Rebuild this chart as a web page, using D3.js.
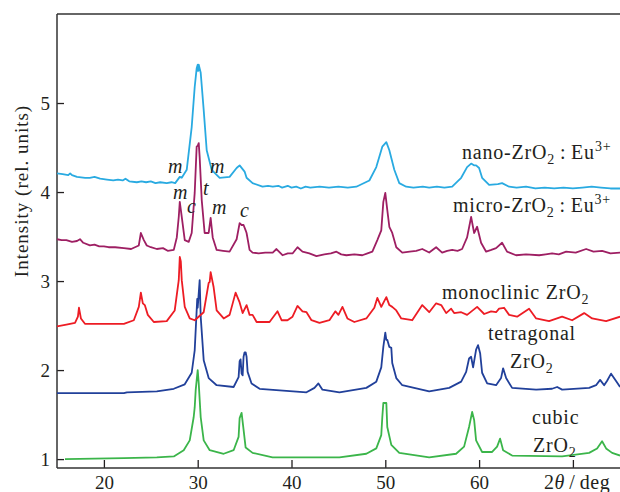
<!DOCTYPE html>
<html>
<head>
<meta charset="utf-8">
<script src="https://cdn.jsdelivr.net/npm/d3@7"></script>
<style>
  body { margin: 0; background: #fff; }
  text { font-family: "Liberation Serif", "Times New Roman", serif; fill: #231f20; }
</style>
</head>
<body>
<div id="chart"></div>
<script>
// XRD patterns, [2theta, intensity]
const nanoPts = [[15.00,4.21],[15.6,4.20],[16.2,4.19],[16.4,4.21],[16.6,4.19],[17.13,4.17],[18.0,4.16],[18.5,4.16],[19.0,4.17],[19.6,4.15],[20.32,4.14],[21.0,4.13],[21.5,4.14],[22.0,4.13],[22.3,4.15],[22.7,4.12],[23.51,4.11],[24.0,4.12],[24.5,4.11],[25.0,4.12],[25.5,4.10],[26.0,4.11],[26.70,4.10],[27.2,4.11],[27.6,4.10],[28.09,4.17],[28.3,4.16],[28.83,4.25],[29.36,4.73],[29.68,5.18],[29.89,5.39],[30.0,5.43],[30.05,5.36],[30.11,5.43],[30.32,5.34],[30.64,4.92],[30.96,4.47],[31.49,4.25],[32.34,4.16],[33.40,4.17],[34.15,4.27],[34.47,4.30],[35.00,4.23],[35.21,4.16],[35.85,4.10],[36.91,4.06],[37.5,4.07],[38.0,4.06],[38.6,4.07],[39.0,4.05],[39.6,4.07],[40.0,4.05],[40.5,4.06],[41.0,4.04],[41.5,4.06],[42.0,4.05],[43.0,4.06],[44.0,4.05],[45.0,4.06],[46.0,4.05],[46.91,4.06],[48.30,4.13],[49.04,4.28],[49.68,4.51],[50.11,4.56],[50.43,4.47],[50.96,4.25],[51.49,4.10],[52.23,4.06],[53.0,4.05],[54.0,4.06],[54.68,4.05],[55.5,4.06],[56.3,4.05],[57.13,4.06],[58.09,4.16],[58.72,4.28],[59.15,4.32],[59.45,4.30],[59.68,4.30],[60.0,4.27],[60.32,4.16],[61.07,4.08],[62.0,4.09],[62.45,4.10],[63.20,4.06],[64.0,4.05],[65.0,4.06],[66.0,4.04],[67.0,4.05],[68.0,4.04],[69.0,4.05],[70.0,4.04],[71.0,4.05],[72.0,4.06],[73.0,4.05],[74.0,4.04],[75.03,4.04]];

const microPts = [[15.00,3.47],[15.5,3.46],[16.0,3.46],[16.6,3.44],[17.13,3.45],[17.45,3.47],[17.8,3.43],[18.51,3.40],[19.0,3.41],[19.5,3.39],[20.0,3.39],[20.5,3.38],[21.2,3.38],[22.13,3.37],[22.9,3.36],[23.72,3.40],[23.94,3.54],[24.1,3.50],[24.26,3.46],[24.57,3.40],[25.0,3.38],[25.64,3.36],[26.3,3.37],[26.8,3.34],[27.45,3.35],[27.77,3.49],[27.98,3.72],[28.09,3.89],[28.30,3.72],[28.62,3.46],[29.04,3.44],[29.36,3.54],[29.68,3.99],[29.89,4.51],[30.0,4.52],[30.11,4.55],[30.21,4.39],[30.43,3.91],[30.74,3.54],[31.17,3.54],[31.38,3.71],[31.60,3.49],[32.02,3.35],[32.7,3.34],[33.40,3.33],[34.15,3.47],[34.47,3.65],[34.68,3.63],[34.89,3.63],[35.11,3.57],[35.21,3.54],[35.53,3.35],[35.85,3.32],[36.5,3.31],[37.2,3.32],[38.0,3.32],[38.40,3.36],[39.04,3.29],[39.6,3.31],[40.11,3.31],[40.64,3.38],[41.17,3.33],[41.9,3.31],[42.66,3.28],[43.5,3.30],[44.2,3.31],[44.79,3.33],[45.3,3.30],[45.85,3.29],[46.7,3.30],[47.55,3.29],[48.1,3.31],[48.62,3.33],[49.15,3.46],[49.57,3.57],[49.79,3.89],[50.00,3.99],[50.21,3.80],[50.43,3.61],[50.74,3.54],[51.17,3.38],[51.81,3.32],[52.6,3.33],[53.3,3.34],[53.94,3.36],[54.68,3.32],[55.42,3.38],[56.06,3.32],[56.6,3.34],[57.13,3.35],[57.7,3.34],[58.19,3.36],[58.72,3.49],[59.15,3.72],[59.47,3.54],[59.79,3.61],[60.21,3.43],[60.75,3.33],[61.3,3.35],[61.81,3.37],[62.45,3.43],[62.98,3.33],[63.94,3.29],[65.0,3.30],[66.40,3.29],[67.1,3.30],[67.78,3.31],[68.5,3.30],[69.28,3.33],[70.3,3.32],[71.41,3.36],[72.2,3.33],[73.11,3.34],[74.0,3.31],[75.03,3.32]];

const monoPts = [[15.00,2.49],[16.0,2.51],[16.92,2.53],[17.23,2.60],[17.34,2.70],[17.55,2.58],[17.98,2.52],[20.0,2.52],[22.13,2.52],[23.19,2.56],[23.72,2.71],[23.94,2.87],[24.15,2.75],[24.36,2.73],[24.68,2.62],[25.32,2.54],[26.70,2.55],[27.55,2.67],[27.98,3.01],[28.09,3.27],[28.2,3.22],[28.30,3.01],[28.62,2.71],[29.15,2.58],[29.68,2.56],[30.64,2.65],[31.17,2.98],[31.28,2.99],[31.38,3.10],[31.70,2.93],[32.02,2.67],[32.77,2.58],[33.40,2.62],[34.04,2.87],[34.47,2.76],[34.79,2.64],[35.21,2.73],[35.53,2.62],[35.85,2.62],[36.28,2.54],[37.66,2.54],[38.51,2.66],[38.94,2.56],[39.57,2.56],[40.11,2.60],[40.64,2.72],[41.17,2.66],[41.60,2.65],[42.13,2.56],[42.98,2.53],[44.04,2.56],[44.68,2.66],[45.00,2.62],[45.43,2.71],[45.96,2.58],[46.70,2.54],[47.98,2.58],[48.83,2.70],[49.15,2.81],[49.57,2.71],[50.11,2.82],[50.43,2.73],[50.74,2.71],[51.17,2.67],[51.70,2.58],[52.87,2.56],[53.94,2.73],[54.68,2.65],[55.42,2.75],[55.96,2.73],[56.49,2.64],[57.02,2.69],[57.34,2.64],[58.09,2.65],[58.72,2.62],[59.79,2.71],[60.54,2.63],[61.28,2.66],[61.81,2.65],[62.13,2.69],[62.66,2.70],[63.20,2.62],[64.05,2.60],[65.33,2.69],[66.08,2.58],[67.46,2.55],[68.85,2.60],[69.92,2.56],[71.2,2.64],[72.05,2.58],[73.54,2.55],[75.03,2.60]];

const tetraPts = [[15.00,1.74],[22.13,1.74],[22.45,1.75],[25.64,1.76],[27.45,1.79],[28.62,1.84],[29.36,1.97],[29.68,2.22],[29.95,2.80],[30.0,2.70],[30.21,3.01],[30.32,2.60],[30.64,2.11],[31.17,1.91],[32.02,1.83],[33.83,1.81],[34.36,1.92],[34.47,2.10],[34.57,2.12],[34.68,1.96],[34.79,1.94],[34.89,2.15],[35.00,2.20],[35.11,2.20],[35.21,2.15],[35.32,1.98],[35.74,1.85],[36.60,1.79],[41.60,1.75],[42.45,1.80],[42.87,1.85],[43.30,1.78],[45.11,1.75],[47.98,1.80],[49.04,1.87],[49.57,2.03],[49.79,2.26],[50.00,2.42],[50.11,2.34],[50.21,2.34],[50.43,2.26],[50.64,2.25],[50.74,2.08],[51.17,1.91],[51.81,1.83],[54.68,1.76],[56.81,1.80],[58.09,1.87],[58.62,1.98],[58.93,2.13],[59.15,2.15],[59.36,2.03],[59.68,2.23],[59.89,2.28],[60.11,2.19],[60.32,1.97],[60.86,1.85],[61.81,1.83],[62.34,1.91],[62.56,2.02],[62.88,1.91],[63.52,1.80],[66.08,1.78],[67.78,1.79],[68.32,1.81],[68.85,1.78],[71.73,1.80],[72.47,1.83],[72.90,1.89],[73.33,1.83],[73.65,1.88],[74.07,1.96],[74.71,1.86],[75.03,1.81]];

const cubicPts = [[15.85,1.00],[22.13,1.01],[25.64,1.02],[27.45,1.03],[28.51,1.10],[29.15,1.21],[29.57,1.47],[29.68,1.58],[29.79,1.78],[30.00,2.00],[30.11,1.85],[30.32,1.47],[30.64,1.21],[31.28,1.10],[32.77,1.06],[33.83,1.10],[34.36,1.25],[34.47,1.46],[34.68,1.52],[34.89,1.33],[35.11,1.13],[35.85,1.07],[37.98,1.02],[45.11,1.02],[47.98,1.06],[49.04,1.12],[49.57,1.27],[49.68,1.47],[49.79,1.63],[50.11,1.63],[50.21,1.36],[50.64,1.16],[51.49,1.07],[54.68,1.02],[57.55,1.06],[58.40,1.14],[58.93,1.36],[59.26,1.53],[59.47,1.44],[59.68,1.21],[60.32,1.08],[61.39,1.08],[61.92,1.14],[62.24,1.23],[62.56,1.10],[63.52,1.04],[68.85,1.03],[71.73,1.07],[72.58,1.12],[73.11,1.20],[73.54,1.12],[74.18,1.07],[75.03,1.04]];

const xTicks = [20, 30, 40, 50, 60, 70];
const yTicks = [1, 2, 3, 4, 5];

// series labels: [text, kind] pieces, anchored in data units
const seriesLabels = [
  {x: 58.18, y: 4.37, parts: [['nano-ZrO'], ['2', 'sub'], ['\u2009:\u2009Eu'], ['3+', 'sup']]},
  {x: 57.22, y: 3.78, parts: [['micro-ZrO'], ['2', 'sub'], ['\u2009:\u2009Eu'], ['3+', 'sup']]},
  {x: 56.04, y: 2.80, parts: [['monoclinic ZrO'], ['2', 'sub']]},
  {x: 60.95, y: 2.34, parts: [['tetragonal']]},
  {x: 63.29, y: 2.02, parts: [['ZrO'], ['2', 'sub']]},
  {x: 65.64, y: 1.39, parts: [['cubic']]},
  {x: 65.75, y: 1.08, parts: [['ZrO'], ['2', 'sub']]}
];

// phase marks above the peaks
const phaseMarks = [
  ['m', 26.83, 4.21], ['m', 31.31, 4.21],
  ['m', 27.37, 3.92], ['c', 28.86, 3.77], ['t', 30.57, 3.97],
  ['m', 31.52, 3.75], ['c', 34.51, 3.72]
];

let chart_width = 620;
let chart_height = 492;
let pad_left = 57, pad_top = 14, pad_bottom = 468;

let svg = d3.select('#chart')
  .append('svg')
  .attr('width', chart_width)
  .attr('height', chart_height);

let x_scale = d3.scaleLinear()
  .domain([15, 75.5])
  .range([pad_left, pad_left + 60.5 * 9.38]);

let y_scale = d3.scaleLinear()
  .domain([0.9, 6.0])
  .range([pad_bottom, pad_top]);

svg.append('clipPath').attr('id', 'clip')
  .append('rect')
  .attr('x', pad_left).attr('y', pad_top)
  .attr('width', chart_width - pad_left).attr('height', pad_bottom - pad_top);

// axes
let x_axis = d3.axisBottom(x_scale)
  .tickValues(xTicks)
  .tickFormat(d => d === 70 ? '' : d)
  .tickSizeInner(-8)
  .tickSizeOuter(0)
  .tickPadding(8);

let gx = svg.append('g')
  .attr('transform', 'translate(0,' + pad_bottom + ')')
  .call(x_axis);

let y_axis = d3.axisLeft(y_scale)
  .tickValues(yTicks)
  .tickFormat(d3.format('d'))
  .tickSizeInner(-7)
  .tickSizeOuter(0)
  .tickPadding(7);

let gy = svg.append('g')
  .attr('transform', 'translate(' + pad_left + ',0)')
  .call(y_axis);

[gx, gy].forEach(g => {
  g.attr('font-family', null);
  g.select('.domain').remove();
  g.selectAll('line').attr('stroke', '#231f20').attr('stroke-width', 1.3);
  g.selectAll('text').style('font-size', '19px').attr('fill', '#231f20');
});

// frame
let frame = svg.append('g').attr('stroke', '#333').attr('stroke-width', 1.5).attr('fill', 'none');
frame.append('line').attr('x1', pad_left).attr('x2', chart_width).attr('y1', pad_top).attr('y2', pad_top);
frame.append('line').attr('x1', pad_left).attr('x2', pad_left).attr('y1', pad_top).attr('y2', pad_bottom);
frame.append('line').attr('x1', pad_left).attr('x2', chart_width).attr('y1', pad_bottom).attr('y2', pad_bottom);

// curves
let line = d3.line()
  .x(d => x_scale(d[0]))
  .y(d => y_scale(d[1]));

let series = [
  [cubicPts, '#3bb54a'],
  [tetraPts, '#21409a'],
  [monoPts, '#ed1c24'],
  [microPts, '#9e1f63'],
  [nanoPts, '#29aae1']
];

svg.append('g')
  .attr('clip-path', 'url(#clip)')
  .selectAll('path')
  .data(series)
  .enter()
  .append('path')
  .attr('d', d => line(d[0]))
  .attr('fill', 'none')
  .attr('stroke', d => d[1])
  .attr('stroke-width', 1.8)
  .attr('stroke-linejoin', 'round');

// series labels
seriesLabels.forEach(l => {
  let t = svg.append('text')
    .attr('x', x_scale(l.x))
    .attr('y', y_scale(l.y))
    .style('font-size', '20px')
    .style('letter-spacing', '0.8px');
  let shift = 0;
  l.parts.forEach(p => {
    let s = t.append('tspan').text(p[0]);
    let want = p[1] === 'sub' ? 5 : p[1] === 'sup' ? -8 : 0;
    if (want !== shift) s.attr('dy', want - shift);
    shift = want;
    if (p[1]) s.style('font-size', '14px');
  });
});

// phase marks
svg.selectAll('text.mark')
  .data(phaseMarks)
  .enter()
  .append('text')
  .attr('class', 'mark')
  .attr('x', d => x_scale(d[1]))
  .attr('y', d => y_scale(d[2]))
  .style('font-size', '20px')
  .style('font-style', 'italic')
  .text(d => d[0]);

// axis titles
svg.append('text')
  .attr('transform', 'translate(28,191) rotate(-90)')
  .attr('text-anchor', 'middle')
  .style('font-size', '19px')
  .style('letter-spacing', '1px')
  .text('Intensity (rel. units)');

let xt = svg.append('text')
  .attr('x', x_scale(70) - 29)
  .attr('y', 489)
  .style('font-size', '20px')
  .style('letter-spacing', '0.5px');
xt.append('tspan').text('2');
xt.append('tspan').style('font-style', 'italic').text('\u03b8');
xt.append('tspan').text('\u2009/\u2009deg');
</script>
</body>
</html>
